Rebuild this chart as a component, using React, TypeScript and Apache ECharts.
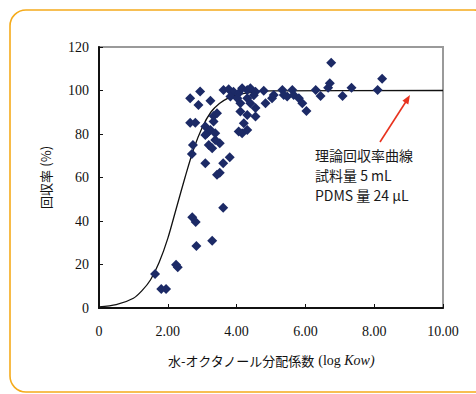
import React, { useEffect, useRef } from "react";
import * as echarts from "echarts";

// Measured recoveries: [log Kow, recovery %]
const measuredX: number[] = [
  1.63, 1.81, 1.95, 2.24, 2.29, 2.71, 2.81, 2.83, 3.29, 3.61, 3.43, 3.51,
  2.70, 2.73, 3.09, 3.61, 3.80, 3.19, 3.29, 3.51, 3.38,
  2.65, 2.80, 3.09, 3.14, 3.24, 3.38, 3.09, 3.33, 3.43, 3.33,
  2.65, 2.94, 2.89, 3.24,
  3.62, 3.77, 3.91, 4.06, 4.16, 4.31, 4.40, 4.55, 3.82, 4.02, 4.11, 4.31, 4.40, 4.11, 4.31, 4.21, 4.16, 4.06, 4.31, 4.50, 4.55, 4.55,
  4.79, 4.84, 5.08, 5.03, 5.33, 5.37, 5.47, 5.62, 5.66, 5.81, 5.91, 6.03, 6.30, 6.44, 6.66, 6.71, 6.75, 7.08, 7.34, 8.10, 8.23,
];
const measuredY: number[] = [
  15.6, 8.7, 8.7, 19.9, 18.7, 41.7, 39.5, 28.5, 30.9, 46.1, 61.3, 62.2,
  70.8, 74.9, 66.5, 66.5, 69.3, 74.9, 73.4, 75.7, 77.2,
  85.2, 85.2, 83.4, 80.3, 81.8, 80.3, 79.5, 88.3, 89.5, 85.7,
  96.4, 99.5, 93.3, 95.3,
  100.2, 100.6, 99.4, 98.7, 101.0, 100.2, 101.0, 99.4, 97.2, 96.4, 94.1, 96.4, 94.1, 90.3, 88.7, 84.9, 80.3, 81.1, 81.8, 97.8, 92.0, 88.0,
  99.9, 94.1, 97.9, 96.4, 100.2, 97.9, 97.2, 100.2, 97.9, 96.4, 94.1, 90.6, 100.2, 97.5, 101.3, 103.3, 112.8, 97.5, 101.3, 100.2, 105.4,
];

// Theoretical recovery curve
const curveX: number[] = [0, 0.5, 1.0, 1.25, 1.5, 1.75, 2.0, 2.25, 2.5, 2.75, 3.0, 3.25, 3.5, 3.75, 4.0, 4.5, 5.0, 10.0];
const curveY: number[] = [0.5, 1.5, 4.5, 8, 13, 21, 32, 46, 60, 73, 83, 90, 94, 96.5, 98, 99.3, 99.8, 100];

const xTicks = { min: 0, max: 10, interval: 2 };
const yTicks = { min: 0, max: 120, interval: 20 };

const annotationLines: string[] = ["理論回収率曲線", "試料量 5 mL", "PDMS 量 24 µL"];

const SERIF = "Liberation Serif";
const CJK = "Noto Sans CJK JP";

export default function App() {
  const ref = useRef<HTMLDivElement>(null);
  useEffect(() => {
    if (!ref.current) return;
    const chart = echarts.init(ref.current, null, { renderer: "svg" });
    const scatterData = measuredX.map((x, i) => [x, measuredY[i]]);
    const curveData = curveX.map((x, i) => [x, curveY[i]]);
    chart.setOption({
      animation: false,
      backgroundColor: "#ffffff",
      grid: {
        left: 99,
        right: 33,
        top: 47,
        bottom: 86,
        show: true,
        borderColor: "#9a9a9a",
        borderWidth: 2,
        backgroundColor: "transparent",
      },
      xAxis: {
        type: "value",
        min: xTicks.min,
        max: xTicks.max,
        interval: xTicks.interval,
        axisLine: { show: true, onZero: false, lineStyle: { color: "#111", width: 2 } },
        axisTick: { show: true, inside: true, length: 4, lineStyle: { color: "#111", width: 1 } },
        splitLine: { show: false },
        axisLabel: {
          margin: 16,
          color: "#111",
          fontFamily: SERIF,
          fontSize: 14,
          formatter: (v: number) => (v === 0 ? "0" : v.toFixed(2)),
        },
        name: "{j|水-オクタノール分配係数} {s|(log }{i|Kow)}",
        nameLocation: "middle",
        nameGap: 45,
        nameTextStyle: {
          rich: {
            j: { fontFamily: CJK, fontSize: 13, color: "#111" },
            s: { fontFamily: SERIF, fontSize: 14, color: "#111" },
            i: { fontFamily: SERIF, fontSize: 14, fontStyle: "italic", color: "#111" },
          },
        },
      },
      yAxis: {
        type: "value",
        min: yTicks.min,
        max: yTicks.max,
        interval: yTicks.interval,
        axisLine: { show: true, onZero: false, lineStyle: { color: "#111", width: 2 } },
        axisTick: { show: true, inside: true, length: 4, lineStyle: { color: "#111", width: 1 } },
        splitLine: { show: false },
        axisLabel: { margin: 10, color: "#111", fontFamily: SERIF, fontSize: 14 },
        name: "{j|回収率} {s|(%)}",
        nameLocation: "middle",
        nameRotate: 90,
        nameGap: 47,
        nameTextStyle: {
          rich: {
            j: { fontFamily: CJK, fontSize: 13, color: "#111" },
            s: { fontFamily: CJK, fontSize: 13, color: "#111" },
          },
        },
      },
      series: [
        {
          type: "line",
          data: curveData,
          smooth: 0.3,
          showSymbol: false,
          symbol: "none",
          lineStyle: { color: "#111", width: 1.3 },
          z: 3,
        },
        {
          type: "scatter",
          data: scatterData,
          symbol: "diamond",
          symbolSize: 10,
          itemStyle: { color: "#1c2a66", opacity: 1 },
          z: 4,
        },
      ],
      graphic: [
        {
          type: "rect",
          shape: { x: 10, y: 10, width: 480, height: 382, r: 16 },
          style: { fill: "none", stroke: "#f5ab1b", lineWidth: 1.6 },
          z: 0,
          silent: true,
        },
        {
          type: "text",
          left: 315,
          top: 145,
          style: {
            text: annotationLines.join("\n"),
            fontFamily: CJK,
            fontSize: 14,
            lineHeight: 20,
            fill: "#1a1a1a",
          },
          z: 10,
        },
        {
          type: "line",
          shape: { x1: 380, y1: 142, x2: 407, y2: 100 },
          style: { stroke: "#e8321e", lineWidth: 1.6 },
          z: 10,
        },
        {
          type: "polygon",
          shape: { points: [[410, 95], [408.3, 104.6], [402.4, 100.8]] },
          style: { fill: "#e8321e" },
          z: 10,
        },
      ],
    });
    return () => chart.dispose();
  }, []);
  return (
    <div
      ref={ref}
      style={{ position: "fixed", left: 0, top: 0, width: 476, height: 394 }}
    />
  );
}
